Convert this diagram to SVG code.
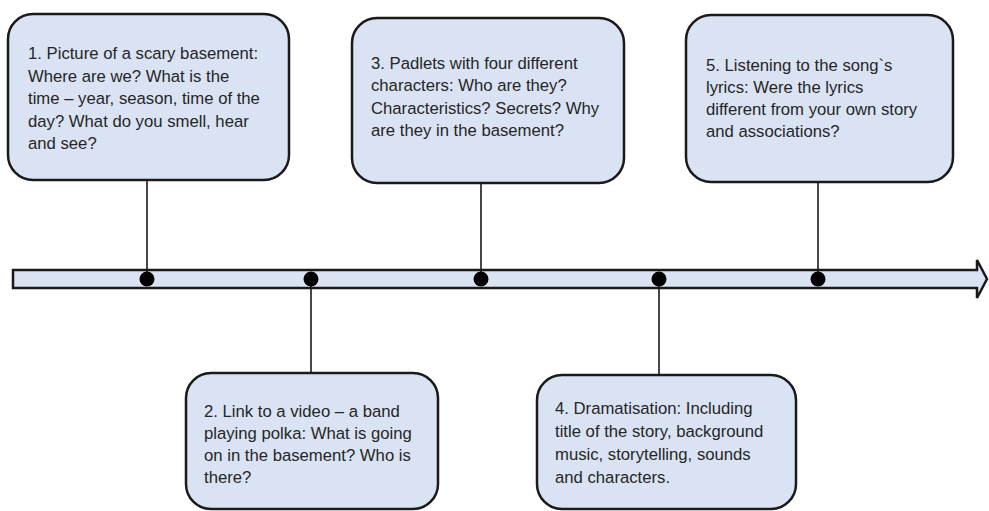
<svg xmlns="http://www.w3.org/2000/svg" width="989" height="511" viewBox="0 0 989 511">
<style>
.box{fill:#dae3f3;stroke:#1a1a1a;stroke-width:2.5}
.t{font-family:"Liberation Sans",Arial,sans-serif;font-size:16.7px;fill:#262626}
.ln{stroke:#1a1a1a;stroke-width:1.6;fill:none}
.dot{fill:#000}
</style>
<rect width="989" height="511" fill="#fff"/>
<g id="timeline">
<polygon class="box" points="13,270 977,270 977,260 987,279 977,298 977,288 13,288" stroke-linejoin="miter"/>
</g>
<g id="connectors">
<line class="ln" x1="147" y1="180" x2="147" y2="279"/>
<line class="ln" x1="311" y1="279" x2="311" y2="373"/>
<line class="ln" x1="481" y1="183" x2="481" y2="279"/>
<line class="ln" x1="659" y1="279" x2="659" y2="375"/>
<line class="ln" x1="818" y1="182" x2="818" y2="279"/>
<circle class="dot" cx="147" cy="279" r="7.5"/>
<circle class="dot" cx="311" cy="279" r="7.5"/>
<circle class="dot" cx="481" cy="279" r="7.5"/>
<circle class="dot" cx="659" cy="279" r="7.5"/>
<circle class="dot" cx="818" cy="279" r="7.5"/>
</g>
<g id="node1">
<rect class="box" x="8" y="14" width="281" height="166" rx="25"/>
<text class="t" x="28" y="59">1. Picture of a scary basement:</text>
<text class="t" x="28" y="81.5">Where are we? What is the</text>
<text class="t" x="28" y="104">time – year, season, time of the</text>
<text class="t" x="28" y="126.5">day? What do you smell, hear</text>
<text class="t" x="28" y="149">and see?</text>
</g>
<g id="node2">
<rect class="box" x="186" y="373" width="252" height="136" rx="25"/>
<text class="t" x="204" y="417">2. Link to a video – a band</text>
<text class="t" x="204" y="439">playing polka: What is going</text>
<text class="t" x="204" y="461">on in the basement? Who is</text>
<text class="t" x="204" y="483">there?</text>
</g>
<g id="node3">
<rect class="box" x="352" y="18" width="272" height="165" rx="25"/>
<text class="t" x="371" y="69">3. Padlets with four different</text>
<text class="t" x="371" y="91">characters: Who are they?</text>
<text class="t" x="371" y="113.5">Characteristics? Secrets? Why</text>
<text class="t" x="371" y="136">are they in the basement?</text>
</g>
<g id="node4">
<rect class="box" x="537" y="375" width="259" height="134" rx="25"/>
<text class="t" x="555" y="414">4. Dramatisation: Including</text>
<text class="t" x="555" y="437">title of the story, background</text>
<text class="t" x="555" y="460">music, storytelling, sounds</text>
<text class="t" x="555" y="483">and characters.</text>
</g>
<g id="node5">
<rect class="box" x="686" y="15" width="267" height="167" rx="25"/>
<text class="t" x="706" y="71">5. Listening to the song`s</text>
<text class="t" x="706" y="93">lyrics: Were the lyrics</text>
<text class="t" x="706" y="115">different from your own story</text>
<text class="t" x="706" y="137">and associations?</text>
</g>
</svg>
